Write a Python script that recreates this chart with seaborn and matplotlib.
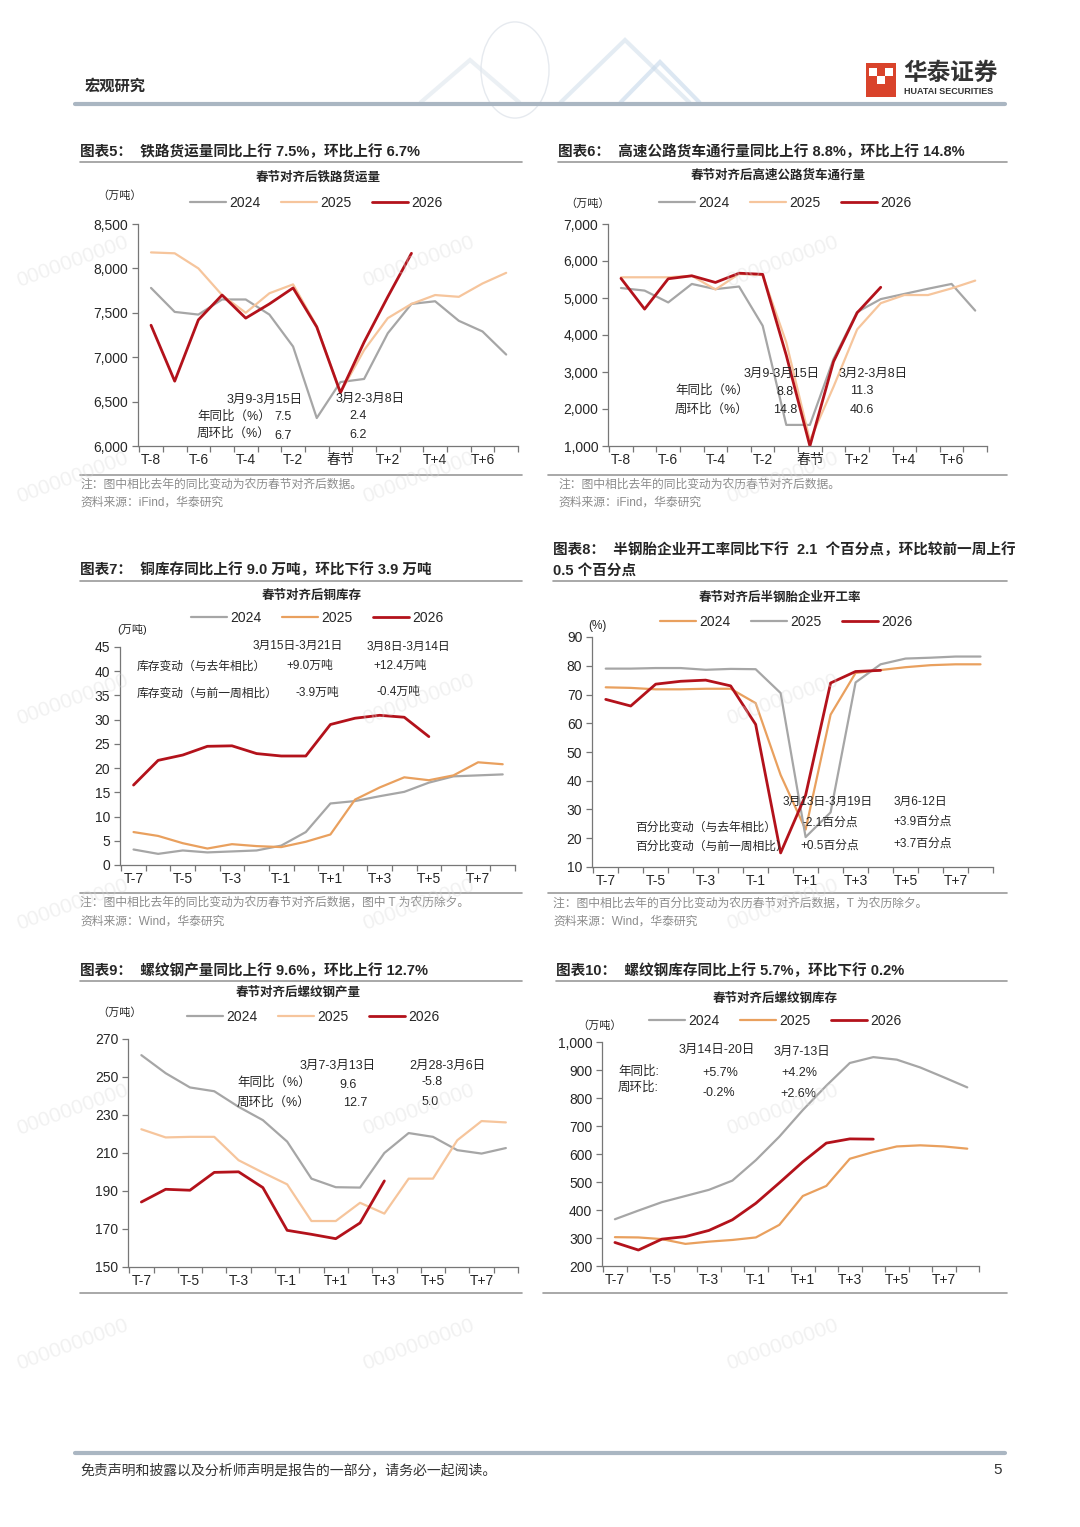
import numpy as np
import seaborn as sns
import matplotlib.pyplot as plt
from matplotlib.ticker import FuncFormatter, FixedLocator
from matplotlib.lines import Line2D
from matplotlib.patches import Rectangle, Circle, Polygon

W, H = 1080, 1527

# ---- data ----
years = ['2024', '2025', '2026']

cats_chunjie = ['T-8', 'T-7', 'T-6', 'T-5', 'T-4', 'T-3', 'T-2', 'T-1', '春节',
                'T+1', 'T+2', 'T+3', 'T+4', 'T+5', 'T+6', 'T+7']
cats_chuxi = ['T-7', 'T-6', 'T-5', 'T-4', 'T-3', 'T-2', 'T-1', 'T',
              'T+1', 'T+2', 'T+3', 'T+4', 'T+5', 'T+6', 'T+7', 'T+8']

# chart 5: rail freight
rail_2024 = [7780, 7510, 7480, 7650, 7650, 7480, 7120, 6315, 6720, 6755, 7270, 7600, 7630, 7410, 7290, 7030]
rail_2025 = [8180, 8170, 8000, 7700, 7500, 7720, 7820, 7350, 6600, 7080, 7440, 7600, 7700, 7680, 7830, 7950]
rail_2026 = [7360, 6730, 7420, 7700, 7440, 7600, 7780, 7340, 6600, 7170, 7680, 8170]

# chart 6: highway trucks
hw_2024 = [5270, 5200, 4880, 5380, 5240, 5310, 4250, 1570, 1570, 3350, 4620, 4970, 5110, 5250, 5380, 4660]
hw_2025 = [5560, 5560, 5560, 5600, 5230, 5650, 5620, 3800, 1150, 2600, 4150, 4860, 5080, 5080, 5260, 5470]
hw_2026 = [5530, 4700, 5520, 5600, 5420, 5670, 5640, 3450, 1000, 3280, 4600, 5290]

# chart 7: copper inventory
cu_2024 = [3.2, 2.3, 3.0, 2.6, 2.8, 3.0, 4.0, 6.8, 12.7, 13.2, 14.2, 15.1, 17.0, 18.3, 18.5, 18.7]
cu_2025 = [6.8, 6.0, 4.5, 3.4, 4.3, 3.9, 3.7, 4.8, 6.3, 13.5, 16.0, 18.1, 17.5, 18.5, 21.2, 20.8]
cu_2026 = [16.5, 21.6, 22.7, 24.5, 24.6, 23.0, 22.5, 22.5, 29.0, 30.3, 30.9, 30.5, 26.5]

# chart 8: semi-steel tyre operating rate
tyre_2024 = [72.5, 72.3, 71.8, 71.8, 72.0, 72.0, 67.0, 42.0, 23.0, 63.0, 77.5, 78.5, 79.5, 80.2, 80.5, 80.5]
tyre_2025 = [79.0, 79.0, 79.2, 79.2, 78.6, 78.9, 78.8, 70.5, 20.4, 29.0, 74.2, 80.5, 82.5, 82.8, 83.2, 83.2]
tyre_2026 = [68.3, 66.0, 73.6, 74.6, 75.0, 73.0, 59.6, 14.9, 35.0, 74.0, 78.0, 78.4]

# chart 9: rebar output
rb_out_2024 = [261.5, 252.0, 244.5, 242.5, 234.3, 227.3, 216.0, 196.5, 192.0, 191.8, 210.0, 220.5, 218.5, 211.5, 209.7, 212.6]
rb_out_2025 = [222.5, 218.2, 218.5, 218.5, 206.2, 199.7, 193.5, 174.2, 174.2, 183.8, 178.1, 196.5, 196.5, 216.7, 226.8, 226.1]
rb_out_2026 = [184.2, 190.9, 190.4, 199.8, 200.1, 191.8, 169.3, 167.2, 164.9, 173.2, 195.3]

# chart 10: rebar inventory
rb_inv_2024 = [367, 398, 428, 450, 472, 505, 578, 662, 757, 844, 925, 946, 937, 909, 874, 838]
rb_inv_2025 = [303, 302, 296, 279, 287, 293, 302, 347, 450, 486, 583, 607, 627, 631, 627, 619]
rb_inv_2026 = [284, 257, 296, 305, 327, 365, 424, 497, 572, 639, 654, 653]

# ---- style ----
sns.set_theme(style='white')
plt.rcParams['font.family'] = ['Liberation Sans', 'Noto Sans CJK SC']
plt.rcParams['axes.unicode_minus'] = False

GRAY = '#a6a6a6'
PEACH = '#f6c59c'
ORANGE = '#e9a05e'
RED = '#b3121b'
TXT = '#262626'
NOTE = '#8c8c8c'
RULE = '#9a9a9a'
NOTE_FS = 8.5

fig = plt.figure(figsize=(W / 100, H / 100), dpi=100)


def t(x, y, s, **kw):
    kw.setdefault('va', 'center')
    kw.setdefault('color', TXT)
    fig.text(x / W, 1 - y / H, s, **kw)


def hline(x0, x1, y, color=RULE, lw=1.2):
    fig.add_artist(Line2D([x0 / W, x1 / W], [1 - y / H, 1 - y / H], color=color, lw=lw))


def panel(box, series, colors, widths, cats, ylim, yticks, comma, legend_xy):
    x0, y0, x1, y1 = box
    ax = fig.add_axes([x0 / W, 1 - y1 / H, (x1 - x0) / W, (y1 - y0) / H])
    for vals, c, lw, lab in zip(series, colors, widths, years):
        sns.lineplot(x=np.arange(len(vals)), y=vals, color=c, lw=lw, label=lab, ax=ax)
    ax.set_xlim(-0.55, len(cats) - 0.5)
    ax.set_ylim(*ylim)
    ax.set_yticks(yticks)
    if comma:
        ax.yaxis.set_major_formatter(FuncFormatter(lambda v, p: f'{v:,.0f}'))
    idx = list(range(0, len(cats), 2))
    ax.set_xticks(idx)
    ax.set_xticklabels([cats[i] for i in idx])
    ax.xaxis.set_minor_locator(FixedLocator(np.arange(-0.5, len(cats), 1)))
    ax.tick_params(axis='x', which='major', bottom=False, length=0, pad=5, labelsize=10,
                   labelcolor=TXT)
    ax.tick_params(axis='x', which='minor', bottom=True, length=4, color='#777', width=0.9)
    ax.tick_params(axis='y', left=True, length=4, color='#777', width=0.9, pad=3,
                   labelsize=10, labelcolor=TXT)
    for s in ['top', 'right']:
        ax.spines[s].set_visible(False)
    for s in ['left', 'bottom']:
        ax.spines[s].set_color('#777')
        ax.spines[s].set_linewidth(0.9)
    ax.set_xlabel('')
    ax.set_ylabel('')
    ax.grid(False)
    lx, ly = legend_xy
    ax.legend(loc='center', bbox_to_anchor=(lx / W, 1 - ly / H), bbox_transform=fig.transFigure,
              ncol=3, frameon=False, fontsize=10, handlelength=2.6, handletextpad=0.2,
              columnspacing=1.5, labelcolor=TXT)
    return ax


# ---- header / footer ----
t(85, 86, '宏观研究', fontsize=11, fontweight='bold', color='#2b2b2b')
hline(75, 1005, 104, color='#aab6c2', lw=3)
# faint decoration in the header
fig.add_artist(Circle((515 / W, 1 - 70 / H), 34 / W, transform=fig.transFigure,
                      fill=False, ec='#e6eaef', lw=1.0))
for pts, col in [([(420, 103), (470, 60), (520, 103)], '#dfe6ee'),
                 ([(560, 103), (625, 40), (690, 103)], '#d3e0ec'),
                 ([(620, 103), (660, 62), (700, 103)], '#c6d8ea')]:
    fig.add_artist(Polygon([(x / W, 1 - y / H) for x, y in pts], closed=False, fill=False,
                           ec=col, lw=3, alpha=0.6, transform=fig.transFigure))
fig.add_artist(Rectangle((866 / W, 1 - 97 / H), 30 / W, 34 / H, transform=fig.transFigure,
                         fc='#d9432b', ec='none'))
for dx, dy in [(873, 72), (889, 72), (881, 80)]:
    fig.add_artist(Rectangle(((dx - 4) / W, 1 - (dy + 4) / H), 8 / W, 8 / H,
                             transform=fig.transFigure, fc='white', ec='none'))
t(903, 73, '华泰证券', fontsize=17, fontweight='bold', color='#333333')
t(904, 92, 'HUATAI SECURITIES', fontsize=6.5, fontweight='bold', color='#333333')

hline(75, 1005, 1453, color='#aab6c2', lw=3)
t(80, 1470, '免责声明和披露以及分析师声明是报告的一部分，请务必一起阅读。', fontsize=10,
  style='italic', color='#333333')
t(998, 1470, '5', fontsize=11, ha='center', color='#333333')

# ---- watermarks ----
for wx in [72, 418, 782]:
    for wy in [262, 478, 700, 905, 1110, 1345]:
        t(wx, wy, '0000000000', fontsize=15, rotation=20, ha='center', color='#d8d8d8',
          alpha=0.35, zorder=10)

# ---- chart 5 ----
t(80, 152, '图表5：  铁路货运量同比上行 7.5%，环比上行 6.7%', fontsize=10.5, fontweight='bold')
hline(80, 522, 162)
t(318, 177, '春节对齐后铁路货运量', fontsize=9, fontweight='bold', ha='center')
t(120, 196, '（万吨）', fontsize=8, ha='center')
panel((138, 224, 518, 446), [rail_2024, rail_2025, rail_2026], [GRAY, PEACH, RED], [1.6, 1.6, 2.0],
      cats_chunjie, (6000, 8500), range(6000, 8501, 500), True, (316, 203))
for x, y, s, ha in [(265, 400, '3月9-3月15日', 'center'), (370, 399, '3月2-3月8日', 'center'),
                    (197, 417, '年同比（%）', 'left'), (283, 417, '7.5', 'center'),
                    (358, 416, '2.4', 'center'), (197, 434, '周环比（%）', 'left'),
                    (283, 436, '6.7', 'center'), (358, 435, '6.2', 'center')]:
    t(x, y, s, fontsize=9, ha=ha)
hline(80, 522, 475)
t(80, 485, '注：图中相比去年的同比变动为农历春节对齐后数据。', fontsize=NOTE_FS, color=NOTE)
t(80, 503, '资料来源：iFind，华泰研究', fontsize=NOTE_FS, color=NOTE)

# ---- chart 6 ----
t(558, 152, '图表6：  高速公路货车通行量同比上行 8.8%，环比上行 14.8%', fontsize=10.5, fontweight='bold')
hline(558, 1007, 162)
t(778, 176, '春节对齐后高速公路货车通行量', fontsize=9, fontweight='bold', ha='center')
t(588, 204, '（万吨）', fontsize=8, ha='center')
panel((608, 224, 987, 446), [hw_2024, hw_2025, hw_2026], [GRAY, PEACH, RED], [1.6, 1.6, 2.0],
      cats_chunjie, (1000, 7000), range(1000, 7001, 1000), True, (785, 203))
for x, y, s, ha in [(782, 374, '3月9-3月15日', 'center'), (873, 374, '3月2-3月8日', 'center'),
                    (675, 391, '年同比（%）', 'left'), (785, 392, '8.8', 'center'),
                    (862, 391, '11.3', 'center'), (675, 410, '周环比（%）', 'left'),
                    (785, 410, '14.8', 'center'), (862, 410, '40.6', 'center')]:
    t(x, y, s, fontsize=9, ha=ha)
hline(548, 1007, 475)
t(558, 485, '注：图中相比去年的同比变动为农历春节对齐后数据。', fontsize=NOTE_FS, color=NOTE)
t(558, 503, '资料来源：iFind，华泰研究', fontsize=NOTE_FS, color=NOTE)

# ---- chart 7 ----
t(80, 570, '图表7：  铜库存同比上行 9.0 万吨，环比下行 3.9 万吨', fontsize=10.5, fontweight='bold')
hline(80, 522, 581)
t(312, 596, '春节对齐后铜库存', fontsize=9, fontweight='bold', ha='center')
t(132, 629, '(万吨)', fontsize=8, ha='center')
panel((120, 647, 515, 865), [cu_2024, cu_2025, cu_2026], [GRAY, ORANGE, RED], [1.6, 1.6, 2.0],
      cats_chuxi, (0, 45), range(0, 46, 5), False, (317, 618))
for x, y, s, ha in [(298, 646, '3月15日-3月21日', 'center'), (408, 647, '3月8日-3月14日', 'center'),
                    (137, 667, '库存变动（与去年相比）', 'left'), (310, 666, '+9.0万吨', 'center'),
                    (400, 666, '+12.4万吨', 'center'), (137, 694, '库存变动（与前一周相比）', 'left'),
                    (317, 693, '-3.9万吨', 'center'), (398, 692, '-0.4万吨', 'center')]:
    t(x, y, s, fontsize=8.5, ha=ha)
hline(80, 522, 893)
t(80, 903, '注：图中相比去年的同比变动为农历春节对齐后数据，图中 T 为农历除夕。', fontsize=NOTE_FS, color=NOTE)
t(80, 922, '资料来源：Wind，华泰研究', fontsize=NOTE_FS, color=NOTE)

# ---- chart 8 ----
t(553, 550, '图表8：  半钢胎企业开工率同比下行  2.1  个百分点，环比较前一周上行', fontsize=10.5,
  fontweight='bold')
t(553, 571, '0.5 个百分点', fontsize=10.5, fontweight='bold')
hline(553, 1007, 581)
t(780, 598, '春节对齐后半钢胎企业开工率', fontsize=9, fontweight='bold', ha='center')
t(597, 626, '(%)', fontsize=8.5, ha='center')
panel((592, 637, 993, 867), [tyre_2024, tyre_2025, tyre_2026], [ORANGE, GRAY, RED], [1.6, 1.6, 2.0],
      cats_chuxi, (10, 90), range(10, 91, 10), False, (786, 622))
for x, y, s, ha in [(828, 802, '3月13日-3月19日', 'center'), (920, 802, '3月6-12日', 'center'),
                    (635, 828, '百分比变动（与去年相比）', 'left'), (830, 823, '-2.1百分点', 'center'),
                    (923, 822, '+3.9百分点', 'center'), (635, 847, '百分比变动（与前一周相比）', 'left'),
                    (830, 846, '+0.5百分点', 'center'), (923, 844, '+3.7百分点', 'center')]:
    t(x, y, s, fontsize=8.5, ha=ha)
hline(548, 1007, 893)
t(553, 904, '注：图中相比去年的百分比变动为农历春节对齐后数据，T 为农历除夕。', fontsize=NOTE_FS, color=NOTE)
t(553, 922, '资料来源：Wind，华泰研究', fontsize=NOTE_FS, color=NOTE)

# ---- chart 9 ----
t(80, 971, '图表9：  螺纹钢产量同比上行 9.6%，环比上行 12.7%', fontsize=10.5, fontweight='bold')
hline(80, 522, 981)
t(298, 993, '春节对齐后螺纹钢产量', fontsize=9, fontweight='bold', ha='center')
t(120, 1013, '（万吨）', fontsize=8, ha='center')
panel((128, 1039, 518, 1267), [rb_out_2024, rb_out_2025, rb_out_2026], [GRAY, PEACH, RED],
      [1.6, 1.6, 2.0], cats_chuxi, (150, 270), range(150, 271, 20), False, (313, 1017))
for x, y, s, ha in [(338, 1066, '3月7-3月13日', 'center'), (447, 1066, '2月28-3月6日', 'center'),
                    (237, 1083, '年同比（%）', 'left'), (348, 1085, '9.6', 'center'),
                    (432, 1082, '-5.8', 'center'), (237, 1103, '周环比（%）', 'left'),
                    (355, 1103, '12.7', 'center'), (430, 1102, '5.0', 'center')]:
    t(x, y, s, fontsize=9, ha=ha)
hline(80, 522, 1293)

# ---- chart 10 ----
t(556, 971, '图表10：  螺纹钢库存同比上行 5.7%，环比下行 0.2%', fontsize=10.5, fontweight='bold')
hline(556, 1007, 981)
t(775, 999, '春节对齐后螺纹钢库存', fontsize=9, fontweight='bold', ha='center')
t(600, 1026, '（万吨）', fontsize=8, ha='center')
panel((602, 1042, 979, 1266), [rb_inv_2024, rb_inv_2025, rb_inv_2026], [GRAY, ORANGE, RED],
      [1.6, 1.6, 2.0], cats_chuxi, (200, 1000), range(200, 1001, 100), True, (775, 1021))
for x, y, s, ha in [(717, 1050, '3月14日-20日', 'center'), (802, 1052, '3月7-13日', 'center'),
                    (618, 1072, '年同比:', 'left'), (720, 1073, '+5.7%', 'center'),
                    (799, 1073, '+4.2%', 'center'), (618, 1088, '周环比:', 'left'),
                    (719, 1093, '-0.2%', 'center'), (798, 1094, '+2.6%', 'center')]:
    t(x, y, s, fontsize=9, ha=ha)
hline(543, 1007, 1293)

fig.savefig('out.png', dpi=100, facecolor='white')
